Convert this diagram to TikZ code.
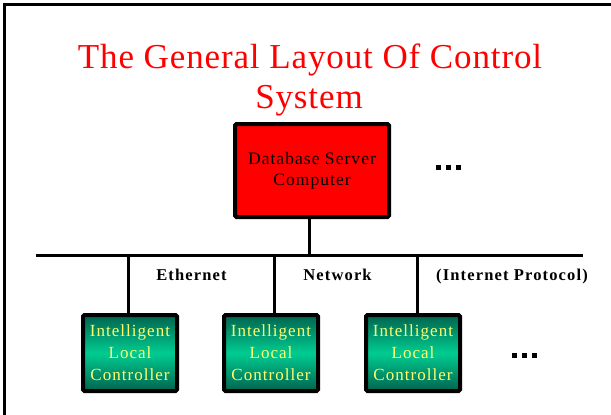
\documentclass[tikz,border=0pt]{standalone}
\usepackage{fontspec}
\setmainfont{Liberation Serif}
\newfontfamily\titlefont[LetterSpace=2.5]{Liberation Serif}
\newfontfamily\boxfont[LetterSpace=6]{Liberation Serif}
\newfontfamily\labelfont[LetterSpace=7]{Liberation Serif}
\definecolor{titlered}{RGB}{255,0,0}
\definecolor{serverred}{RGB}{255,0,0}
\definecolor{tealdark}{RGB}{0,100,78}
\definecolor{teallight}{RGB}{0,204,145}
\definecolor{paleyellow}{RGB}{255,255,110}
\tikzset{
  frame/.style={line width=3pt},
  server/.style={draw, line width=4pt, fill=serverred, rounded corners=1.5pt,
    minimum width=154pt, minimum height=93pt, inner sep=0pt, align=center,
    font=\fontsize{17.5}{21}\boxfont},
  controller/.style={draw, line width=4pt, rounded corners=1.5pt,
    top color=tealdark, bottom color=tealdark, middle color=teallight,
    minimum width=94pt, minimum height=76pt, inner sep=0pt, align=center,
    text=paleyellow, font=\fontsize{17}{22}\boxfont},
  busline/.style={line width=3.5pt},
  dropline/.style={line width=3pt},
  netlabel/.style={anchor=base, inner sep=0pt, font=\fontsize{16.5}{18}\labelfont\bfseries},
  titletext/.style={anchor=base, inner sep=0pt, text=titlered, font=\fontsize{35}{40}\titlefont},
  dot/.style={fill=black},
}
\begin{document}
\begin{tikzpicture}[x=1pt,y=-1pt]
\useasboundingbox (0,0) rectangle (611,415);
% page frame on the top and left
\draw[frame] (4,415) -- (4,4) -- (611,4);

% title
\node[titletext] (title1) at (310,68) {The General Layout Of Control};
\node[titletext] (title2) at (309,108) {System};

% server
\node[server] (db) at (312,170.5) {Database Server\\Computer};

% dots beside the server
\fill[dot] (436,165) rectangle ++(5,5);
\fill[dot] (446,165) rectangle ++(5,5);
\fill[dot] (456,165) rectangle ++(5,5);

% network bus
\coordinate (busL) at (36,255.5);
\coordinate (busR) at (583,255.5);
\draw[busline] (busL) -- (busR);
\coordinate (t0) at (309,255.5);
\draw[dropline] (t0) -- (t0 |- db.south);

% labels along the bus
\node[netlabel] (lab1) at (191.5,280) {Ethernet};
\node[netlabel] (lab2) at (337.5,280) {Network};
\node[netlabel] (lab3) at (512,280) {(Internet Protocol)};

% local controllers
\node[controller] (c1) at (130,353) {Intelligent\\Local\\Controller};
\node[controller] (c2) at (271,353) {Intelligent\\Local\\Controller};
\node[controller] (c3) at (413,353) {Intelligent\\Local\\Controller};

\coordinate (t1) at (128,255.5);
\coordinate (t2) at (274,255.5);
\coordinate (t3) at (417,255.5);
\draw[dropline] (t1) -- (t1 |- c1.north);
\draw[dropline] (t2) -- (t2 |- c2.north);
\draw[dropline] (t3) -- (t3 |- c3.north);

% dots beside the controllers
\fill[dot] (512,353) rectangle ++(5,5);
\fill[dot] (522,353) rectangle ++(5,5);
\fill[dot] (532,353) rectangle ++(5,5);
\end{tikzpicture}
\end{document}
